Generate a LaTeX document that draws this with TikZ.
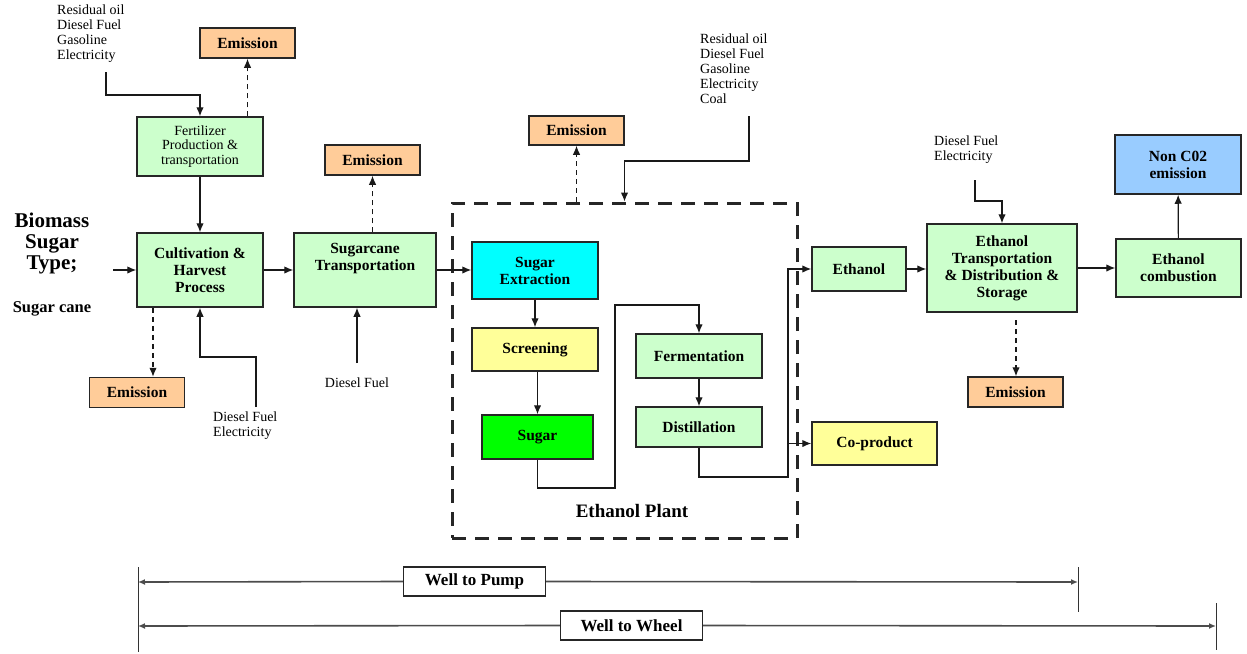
\documentclass[tikz,border=0pt]{standalone}
\usepackage{fontspec}
\setmainfont{Liberation Serif}
\usetikzlibrary{arrows.meta}
\definecolor{emis}{HTML}{FFCC99}
\definecolor{lgreen}{HTML}{CCFFCC}
\definecolor{cyanb}{HTML}{00FFFF}
\definecolor{lyel}{HTML}{FFFF99}
\definecolor{grn}{HTML}{00FF00}
\definecolor{lblue}{HTML}{99CCFF}
\newcommand\bxf{\fontsize{15.5}{17}\selectfont\bfseries}
\newcommand\smf{\fontsize{14}{15}\selectfont}
\tikzset{sptip/.tip={Latex[length=7pt,width=6pt]}}
\begin{document}
\begin{tikzpicture}[x=1pt,y=-1pt,
 box/.style={draw=black!85, line width=1.5pt, align=center, inner sep=1pt, font=\bxf},
 ebox/.style={box, fill=emis, minimum width=95pt, minimum height=30pt},
 gbox/.style={box, fill=lgreen},
 arr/.style={line width=1.2pt, black!90, -{Latex[length=9pt,width=7.5pt]}},
 darr/.style={arr, dash pattern=on 5pt off 4pt},
 intext/.style={font=\smf, align=left, inner sep=0pt},
 span/.style={line width=1.6pt, black!70},
 tick/.style={line width=1pt, black!80},
 labbox/.style={draw=black!85, line width=1.3pt, fill=white, font=\fontsize{17}{18}\selectfont\bfseries, minimum width=142pt, minimum height=29pt, inner sep=1pt}
]
\useasboundingbox (0,0) rectangle (1247,653);

% ---- nodes ----
\node[ebox] (em1) at (247.5,43) {Emission};
\node[gbox, font=\fontsize{14}{14.5}\selectfont, minimum width=126pt, minimum height=59pt] (fert) at (200,146.5) {Fertilizer\\Production \&\\transportation};
\node[gbox, minimum width=126pt, minimum height=74pt] (cult) at (200,270) {Cultivation \&\\Harvest\\Process};
\node[gbox, minimum width=142pt, minimum height=74pt] (sct) at (365,270) {};
\node[font=\bxf, align=center, inner sep=0pt] (sctT) at (365,259) {Sugarcane\\Transportation};
\node[ebox] (em2) at (137,392.5) {Emission};
\node[ebox] (em3) at (372.5,160) {Emission};
\node[ebox, minimum height=29pt] (em4) at (576.5,130.5) {Emission};

\node[draw=black!85, line width=3pt, dash pattern=on 14pt off 9pt, minimum width=345pt, minimum height=335pt] (plant) at (624.5,370.5) {};
\node[font=\fontsize{19}{21}\selectfont\bfseries] (plantT) at (632,511) {Ethanol Plant};

\node[box, fill=cyanb, minimum width=126pt, minimum height=57pt] (se) at (535,270.5) {Sugar\\Extraction};
\node[box, fill=lyel, minimum width=126pt, minimum height=43pt] (scr) at (535,349.5) {Screening};
\node[box, fill=grn, minimum width=111pt, minimum height=44pt] (sug) at (537.5,437) {Sugar};
\node[gbox, minimum width=126pt, minimum height=44pt] (ferm) at (699,356) {Fermentation};
\node[gbox, minimum width=126pt, minimum height=40pt] (dist) at (699,427) {Distillation};

\node[gbox, minimum width=94pt, minimum height=44pt] (eth) at (859,269) {Ethanol};
\node[box, fill=lyel, minimum width=125pt, minimum height=43pt] (cop) at (874.5,443.5) {Co-product};
\node[gbox, minimum width=150pt, minimum height=88pt] (et) at (1002,268) {Ethanol\\Transportation\\\& Distribution \&\\Storage};
\node[gbox, minimum width=125pt, minimum height=58pt] (comb) at (1178.5,268) {Ethanol\\combustion};
\node[box, fill=lblue, minimum width=126pt, minimum height=59pt] (nonco) at (1178,164.5) {Non C02\\emission};
\node[ebox] (em5) at (1015.5,392) {Emission};

% ---- texts ----
\node[intext, anchor=north west] (in1) at (57,5) {Residual oil\\Diesel Fuel\\Gasoline\\Electricity};
\node[font=\fontsize{21}{21}\selectfont\bfseries, align=center, inner sep=0pt] (bio) at (52,243) {Biomass\\Sugar\\Type;};
\node[font=\fontsize{16.5}{18}\selectfont\bfseries, inner sep=0pt] (scane) at (52,309) {Sugar cane};
\node[intext, anchor=north west] (in2) at (213,412) {Diesel Fuel\\Electricity};
\node[intext] (in3) at (357,383) {Diesel Fuel};
\node[intext, anchor=north west] (in4) at (700,34) {Residual oil\\Diesel Fuel\\Gasoline\\Electricity\\Coal};
\node[intext, anchor=north west] (in5) at (934,136) {Diesel Fuel\\Electricity};

% ---- coordinates ----
\coordinate (c1) at (106,72);
\coordinate (cin) at (113,270);
\coordinate (c2) at (256,407);
\coordinate (c3) at (357,363);
\coordinate (c4) at (749,116);
\coordinate (c5) at (615,488);
\coordinate (c6) at (615,305);
\coordinate (c7) at (788,477);
\coordinate (c9) at (975,180);
\coordinate (c10) at (1016,320);

% ---- connectors ----
\draw[arr] (c1) -- ++(0,23) -| (fert.north);
\draw[darr] (fert.north -| em1.south) -- (em1.south);
\draw[arr] (fert) -- (cult);
\draw[arr] (cin) -- (cin -| cult.west);
\draw[arr] (cult.east) -- (cult.east -| sct.west);
\draw[darr] ([xshift=16pt]em2.north |- cult.south) -- ([xshift=16pt]em2.north);
\draw[arr] (c2) -- ++(0,-50) -| (cult.south);
\draw[arr] (c3) -- (c3 |- sct.south);
\draw[darr] (sct.north -| em3.south) -- (em3.south);
\draw[arr] (sct.east) -- (sct.east -| se.west);
\draw[darr] (plant.north -| em4.south) -- (em4.south);
\draw[arr] (c4) -- ++(0,45) -| (plant.north);
\draw[arr] (se) -- (scr);
\draw[arr] (scr.south -| sug.north) -- (sug.north);
\draw[arr] (sug.south) |- (c5) -- (c6) -| (ferm.north);
\draw[arr] (ferm) -- (dist);
\draw[arr] (dist.south) |- (c7) |- (eth.west);
\draw[arr] (c7 |- cop.west) -- (cop.west);
\draw[arr] (eth.east) -- (eth.east -| et.west);
\draw[arr] (c9) -- ++(0,21) -| (et.north);
\draw[arr] (et.east) -- (et.east -| comb.west);
\draw[arr] (comb) -- (nonco);
\draw[darr] (c10) -- (c10 |- em5.north);

% ---- spans ----
\coordinate (pl) at (138,582);
\coordinate (pr) at (1078,582);
\coordinate (wl) at (138,626);
\coordinate (wr) at (1216,626);
\node[labbox] (pump) at (474.5,581.5) {Well to Pump};
\node[labbox] (wheel) at (631.5,625.5) {Well to Wheel};
\draw[tick] (138,567) -- (138,652);
\draw[tick] (1078,567) -- (1078,612);
\draw[tick] (1216,603) -- (1216,650);
\draw[span, sptip-] (pl) -- (pump.west);
\draw[span, -sptip] (pump.east) -- (pr);
\draw[span, sptip-] (wl) -- (wheel.west);
\draw[span, -sptip] (wheel.east) -- (wr);
\end{tikzpicture}
\end{document}
